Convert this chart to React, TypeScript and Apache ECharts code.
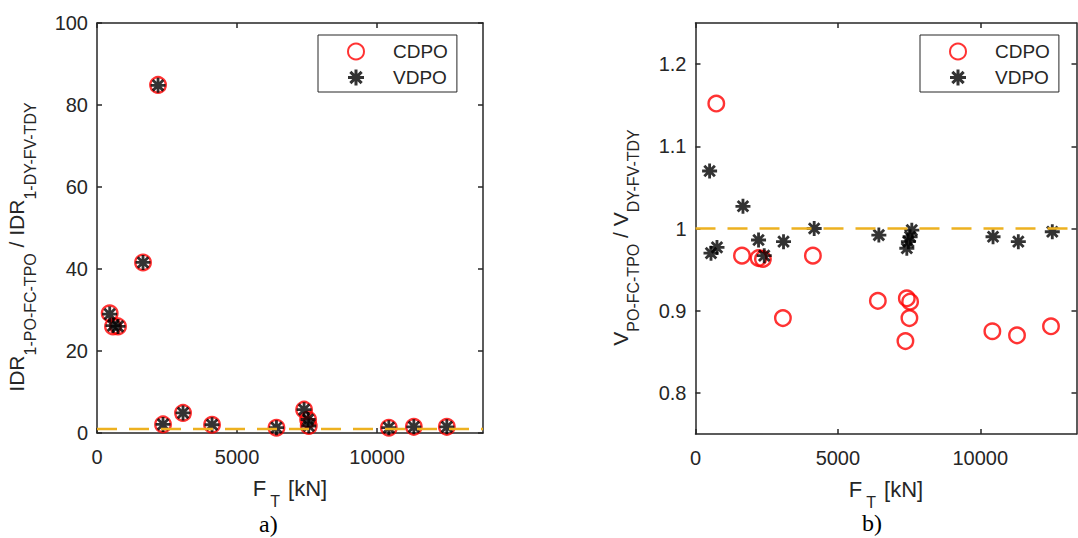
import React, { useEffect, useRef } from 'react';
import * as echarts from 'echarts';

// ---- data ----
const X_TICKS = [0, 5000, 10000];
const LEFT_Y_TICKS = [0, 20, 40, 60, 80, 100];
const RIGHT_Y_TICKS = [0.8, 0.9, 1.0, 1.1, 1.2];

const LEFT_F = [453, 571, 750, 1643, 2179, 2357, 3071, 4107, 6407, 7393, 7536, 7560, 10418, 11311, 12489];
const LEFT_CDPO = [29.2, 26.0, 26.0, 41.6, 84.9, 2.1, 4.9, 2.0, 1.3, 5.7, 3.3, 1.7, 1.3, 1.5, 1.5];
const LEFT_VDPO = [29.0, 26.2, 26.0, 41.6, 84.8, 2.1, 4.9, 2.0, 1.3, 5.7, 3.3, 1.7, 1.3, 1.5, 1.5];

const RIGHT_CDPO_F = [730, 1632, 2214, 2368, 3070, 4123, 6404, 7372, 7421, 7512, 7537, 10425, 11291, 12484];
const RIGHT_CDPO = [1.152, 0.967, 0.964, 0.963, 0.891, 0.967, 0.912, 0.863, 0.915, 0.891, 0.911, 0.875, 0.870, 0.881];
const RIGHT_VDPO_F = [495, 544, 754, 1667, 2214, 2414, 3091, 4168, 6439, 7421, 7477, 7537, 7596, 10449, 11337, 12530];
const RIGHT_VDPO = [1.070, 0.970, 0.977, 1.027, 0.986, 0.967, 0.984, 1.000, 0.992, 0.976, 0.984, 0.990, 0.998, 0.990, 0.984, 0.996];

const REF_LINE = 1;
const LEFT_XMAX = 13780;
const RIGHT_XMAX = 13380;

const AX = '#262626';
const FONT = '"Liberation Sans", Arial, Helvetica, sans-serif';
const SERIF = '"Liberation Serif", "Times New Roman", serif';
const STAR =
  'path://M0 8.1L20 8.1L20 11.9L0 11.9Z M8.1 0L11.9 0L11.9 20L8.1 20Z M4.27 1.59L18.41 15.73L15.73 18.41L1.59 4.27Z M18.41 4.27L4.27 18.41L1.59 15.73L15.73 1.59Z';

const rich = {
  m: { fontSize: 21, lineHeight: 21, fontFamily: FONT, color: AX, verticalAlign: 'top' },
  s: { fontSize: 16, lineHeight: 16, fontFamily: FONT, color: AX, verticalAlign: 'top', padding: [16, 0, 0, 0] },
};

const xRich = {
  m: { fontSize: 22, lineHeight: 22, fontFamily: FONT, color: AX, verticalAlign: 'top' },
  s: { fontSize: 16, lineHeight: 16, fontFamily: FONT, color: AX, verticalAlign: 'top', padding: [16, 2, 0, 4] },
};

const lineStyle = { color: AX, width: 1.5 };

function xAxis(gridIndex: number, max: number, top: boolean) {
  return {
    type: 'value',
    gridIndex,
    min: 0,
    max,
    position: top ? 'top' : 'bottom',
    axisLine: { show: true, onZero: false, lineStyle },
    axisTick: { show: true, inside: true, length: 5, customValues: X_TICKS, lineStyle },
    axisLabel: {
      show: !top,
      customValues: X_TICKS,
      formatter: (v: number) => String(v),
      margin: 14,
      color: AX,
      fontSize: 20,
      fontFamily: FONT,
    },
    splitLine: { show: false },
    name: top ? '' : '{m|F}{s|T}{m| [kN]}',
    nameLocation: 'middle',
    nameGap: 44,
    nameTextStyle: { rich: xRich },
  };
}

function yAxis(gridIndex: number, min: number, max: number, ticks: number[], right: boolean, name: string, gap: number, shift: number) {
  return {
    type: 'value',
    gridIndex,
    min,
    max,
    position: right ? 'right' : 'left',
    axisLine: { show: true, onZero: false, lineStyle },
    axisTick: { show: true, inside: true, length: 5, customValues: ticks, lineStyle },
    axisLabel: {
      show: !right,
      customValues: ticks,
      formatter: (v: number) => String(Number(v.toFixed(3))),
      margin: 9,
      color: AX,
      fontSize: 20,
      fontFamily: FONT,
    },
    splitLine: { show: false },
    name: right ? '' : name,
    nameLocation: 'middle',
    nameRotate: 90,
    nameGap: gap,
    nameTextStyle: { rich, padding: [0, shift, 0, 0] },
  };
}

function legend(left: number) {
  return {
    data: ['CDPO', 'VDPO'],
    orient: 'vertical',
    left,
    top: 35,
    itemWidth: 64,
    itemHeight: 16,
    itemGap: 7,
    padding: [7, 9, 5, 29],
    borderColor: AX,
    borderWidth: 1,
    textStyle: { fontSize: 19, color: AX, fontFamily: FONT },
    selectedMode: false,
  };
}

function circles(xi: number, xs: number[], ys: number[]) {
  return {
    type: 'scatter',
    name: 'CDPO',
    xAxisIndex: xi,
    yAxisIndex: xi,
    symbol: 'circle',
    symbolSize: 15.5,
    itemStyle: { color: 'rgba(0,0,0,0)', borderColor: '#FF0000', borderWidth: 2.4 },
    data: xs.map((x, i) => [x, ys[i]]),
  };
}

function stars(xi: number, xs: number[], ys: number[]) {
  return {
    type: 'scatter',
    name: 'VDPO',
    xAxisIndex: xi,
    yAxisIndex: xi,
    symbol: STAR,
    symbolSize: 15,
    itemStyle: { color: '#000000' },
    data: xs.map((x, i) => [x, ys[i]]),
  };
}

function refLine(xi: number, max: number) {
  return {
    type: 'line',
    xAxisIndex: xi,
    yAxisIndex: xi,
    symbol: 'none',
    silent: true,
    lineStyle: { color: '#EDB120', width: 2.5, type: [20, 12] },
    data: [[0, REF_LINE], [max, REF_LINE]],
  };
}

export default function App() {
  const ref = useRef<HTMLDivElement>(null);
  useEffect(() => {
    if (!ref.current) return;
    const chart = echarts.init(ref.current, undefined, { renderer: 'svg' });
    chart.setOption({
      animation: false,
      backgroundColor: '#ffffff',
      grid: [
        { left: 97, top: 23, width: 386, height: 410 },
        { left: 695.5, top: 23, width: 381, height: 411 },
      ],
      xAxis: [xAxis(0, LEFT_XMAX, false), xAxis(0, LEFT_XMAX, true), xAxis(1, RIGHT_XMAX, false), xAxis(1, RIGHT_XMAX, true)],
      yAxis: [
        yAxis(0, 0, 100, LEFT_Y_TICKS, false, '{m|IDR}{s|1-PO-FC-TPO}{m| / IDR}{s|1-DY-FV-TDY}', 70, 38),
        yAxis(0, 0, 100, LEFT_Y_TICKS, true, '', 0, 0),
        yAxis(1, 0.75, 1.25, RIGHT_Y_TICKS, false, '{m|V}{s|PO-FC-TPO}{m| / V}{s|DY-FV-TDY}', 65, 18),
        yAxis(1, 0.75, 1.25, RIGHT_Y_TICKS, true, '', 0, 0),
      ],
      legend: [legend(318), legend(920)],
      series: [
        circles(0, LEFT_F, LEFT_CDPO),
        stars(0, LEFT_F, LEFT_VDPO),
        refLine(0, LEFT_XMAX),
        circles(2, RIGHT_CDPO_F, RIGHT_CDPO),
        stars(2, RIGHT_VDPO_F, RIGHT_VDPO),
        refLine(2, RIGHT_XMAX),
      ],
      graphic: [
        {
          type: 'text',
          left: 259,
          top: 512,
          style: { text: 'a)', fontSize: 24, fontFamily: SERIF, fill: '#000' },
        },
        {
          type: 'text',
          left: 862,
          top: 511,
          style: { text: 'b)', fontSize: 24, fontFamily: SERIF, fill: '#000' },
        },
      ],
    });
    return () => chart.dispose();
  }, []);
  return <div ref={ref} style={{ position: 'absolute', left: 0, top: 0, width: 1078, height: 538, background: '#fff' }} />;
}
